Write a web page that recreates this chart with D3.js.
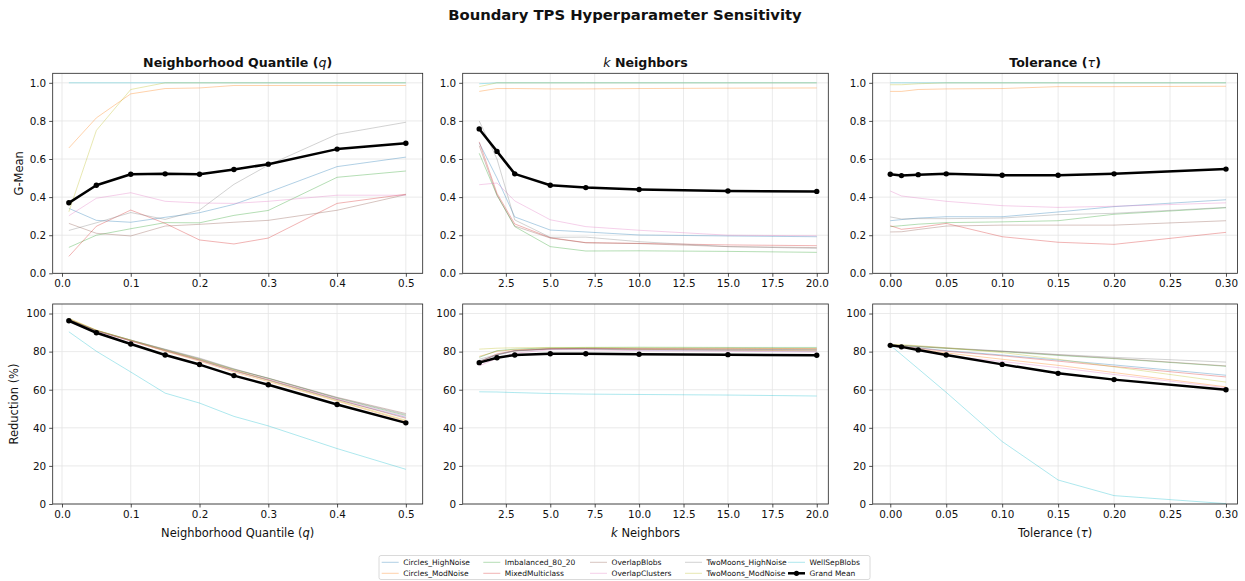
<!DOCTYPE html>
<html>
<head>
<meta charset="utf-8">
<script src="https://cdn.jsdelivr.net/npm/d3@7"></script>
<style>
  body { margin: 0; background: #fff; }
  text { font-family: "DejaVu Sans", sans-serif; fill: #111; }
</style>
</head>
<body>
<svg id="chart" width="1245" height="581"></svg>
<script>
// datasets, in legend order
const datasets = ["Circles_HighNoise", "Circles_ModNoise", "Imbalanced_80_20", "MixedMulticlass",
  "OverlapBlobs", "OverlapClusters", "TwoMoons_HighNoise", "TwoMoons_ModNoise", "WellSepBlobs"];

// hyperparameter grids
const qValues = [0.01, 0.05, 0.1, 0.15, 0.2, 0.25, 0.3, 0.4, 0.5];
const kValues = [1, 2, 3, 5, 7, 10, 15, 20];
const tauValues = [0, 0.01, 0.025, 0.05, 0.1, 0.15, 0.2, 0.3];

// G-Mean, one row per dataset
const gmeanByQ = [
  [0.341, 0.278, 0.268, 0.294, 0.318, 0.362, 0.425, 0.56, 0.61],
  [0.658, 0.816, 0.942, 0.97, 0.973, 0.986, 0.986, 0.986, 0.986],
  [0.136, 0.2, 0.234, 0.266, 0.265, 0.304, 0.33, 0.504, 0.537],
  [0.089, 0.247, 0.332, 0.262, 0.175, 0.154, 0.185, 0.367, 0.415],
  [0.262, 0.21, 0.196, 0.248, 0.257, 0.268, 0.278, 0.331, 0.413],
  [0.302, 0.394, 0.423, 0.378, 0.369, 0.367, 0.378, 0.41, 0.41],
  [0.225, 0.265, 0.319, 0.283, 0.332, 0.467, 0.568, 0.73, 0.793],
  [0.323, 0.75, 0.965, 1.0, 1.0, 1.0, 1.0, 1.0, 1.0],
  [1, 1, 1, 1, 1, 1, 1, 1, 1]
];
const gmeanByQMean = [0.37, 0.462, 0.52, 0.522, 0.52, 0.545, 0.573, 0.652, 0.683];

const gmeanByK = [
  [0.685, 0.5, 0.296, 0.227, 0.217, 0.201, 0.196, 0.192],
  [0.955, 0.97, 0.97, 0.968, 0.968, 0.97, 0.972, 0.973],
  [0.63, 0.41, 0.245, 0.14, 0.117, 0.118, 0.115, 0.11],
  [0.69, 0.42, 0.259, 0.187, 0.161, 0.157, 0.149, 0.145],
  [0.67, 0.41, 0.248, 0.185, 0.16, 0.156, 0.14, 0.135],
  [0.465, 0.474, 0.38, 0.281, 0.245, 0.226, 0.2, 0.197],
  [0.8, 0.6, 0.28, 0.189, 0.19, 0.166, 0.14, 0.131],
  [0.98, 1, 1, 1, 1, 1, 1, 1],
  [0.995, 1, 1, 1, 1, 1, 1, 1]
];
const gmeanByKMean = [0.758, 0.64, 0.522, 0.462, 0.45, 0.44, 0.432, 0.43];

const gmeanByTau = [
  [0.276, 0.282, 0.29, 0.297, 0.297, 0.322, 0.35, 0.386],
  [0.955, 0.955, 0.965, 0.968, 0.97, 0.98, 0.98, 0.982],
  [0.245, 0.25, 0.258, 0.266, 0.27, 0.276, 0.31, 0.344],
  [0.25, 0.231, 0.24, 0.262, 0.192, 0.163, 0.152, 0.215],
  [0.217, 0.218, 0.23, 0.248, 0.253, 0.253, 0.253, 0.276],
  [0.432, 0.406, 0.395, 0.378, 0.355, 0.346, 0.352, 0.37],
  [0.296, 0.285, 0.287, 0.287, 0.29, 0.308, 0.315, 0.346],
  [0.99, 0.99, 0.995, 1, 1, 1, 1, 1],
  [1, 1, 1, 1, 1, 1, 1, 1]
];
const gmeanByTauMean = [0.52, 0.513, 0.518, 0.522, 0.515, 0.515, 0.522, 0.547];

// Reduction (%), one row per dataset
const reductionByQ = [
  [96.8, 91.0, 85.7, 80.5, 75.5, 69.9, 65.0, 54.8, 45.5],
  [97.3, 91.2, 85.6, 80.2, 75.0, 69.3, 64.3, 54.0, 43.5],
  [96.8, 91.1, 86.0, 81.0, 76.0, 70.6, 66.0, 55.6, 46.5],
  [96.7, 90.9, 85.7, 80.6, 75.6, 70.0, 65.2, 54.9, 45.0],
  [96.9, 91.2, 86.1, 81.1, 76.3, 70.8, 66.1, 56.0, 47.5],
  [96.4, 90.8, 85.6, 80.5, 75.6, 70.0, 65.3, 55.2, 46.0],
  [96.7, 91.0, 86.0, 81.3, 76.6, 71.0, 65.9, 55.8, 47.0],
  [97.5, 91.3, 86.0, 80.6, 75.8, 70.3, 64.9, 54.4, 44.0],
  [90.4, 80.2, 69.3, 58.2, 53.0, 46.0, 41.0, 29.1, 18.2]
];
const reductionByQMean = [96.2, 89.9, 84.0, 78.2, 73.2, 67.4, 62.6, 52.2, 42.6];

const reductionByK = [
  [75, 78.2, 80.5, 81.3, 81.3, 80.9, 80.6, 80.3],
  [77.5, 80.2, 81, 81.6, 81.5, 81.2, 80.8, 80.4],
  [77, 80.5, 81.3, 82, 82.2, 82.3, 82.2, 82.2],
  [74.5, 78.8, 80.5, 81.5, 81.7, 81.6, 81.7, 81.6],
  [75, 78.3, 80.3, 81.4, 81.6, 81.3, 81.2, 81],
  [72.5, 76.5, 79.2, 81, 81, 80.5, 80.2, 79.8],
  [76, 78.5, 80.5, 81.5, 81.6, 81.4, 81.2, 81],
  [81.3, 81.8, 82, 82.2, 82.2, 82, 81.8, 81.5],
  [58.9, 58.8, 58.5, 58, 57.7, 57.5, 57.2, 56.7]
];
const reductionByKMean = [74.2, 76.8, 78.2, 78.9, 78.9, 78.6, 78.4, 78.1];

const reductionByTau = [
  [83.3, 82.9, 82, 80.5, 78.2, 75.6, 73, 67.6],
  [83.2, 82.6, 81.3, 79.3, 76, 72.8, 69, 61.5],
  [83.3, 83.2, 82.6, 81.7, 80, 78, 76.3, 72.3],
  [83.2, 82.8, 81.8, 80.2, 77.8, 75, 72.2, 66.7],
  [83.4, 83.3, 82.7, 81.8, 80.2, 78.3, 76.5, 72.5],
  [83.1, 82.3, 80.9, 77.9, 74.8, 71.6, 68, 61],
  [83.4, 83.3, 82.8, 82, 80.3, 78.5, 77, 74.5],
  [83.8, 83.6, 83.1, 82.0, 79.5, 76.0, 72.0, 64.0],
  [83.3, 78.4, 71, 58.6, 32.8, 12.6, 4.4, 0.2]
];
const reductionByTauMean = [83.3, 82.5, 80.9, 78.2, 73.3, 68.6, 65.3, 60];

// tick labels
const qTicks = [0, 0.1, 0.2, 0.3, 0.4, 0.5];
const kTicks = [2.5, 5, 7.5, 10, 12.5, 15, 17.5, 20];
const tauTicks = [0, 0.05, 0.1, 0.15, 0.2, 0.25, 0.3];
const gmeanTicks = [0, 0.2, 0.4, 0.6, 0.8, 1.0];
const reductionTicks = [0, 20, 40, 60, 80, 100];

// ---- styling / layout ----
const colors = ["#1f77b4", "#ff7f0e", "#2ca02c", "#d62728", "#8c564b",
  "#e377c2", "#7f7f7f", "#bcbd22", "#17becf"];

const cols = [
  { left: 52.7, right: 422.7, domain: [-0.0135, 0.5245], xs: qValues, ticks: qTicks, fmt: ".1f",
    label: [["Neighborhood Quantile (", false], ["q", true], [")", false]] },
  { left: 462.7, right: 828.3, domain: [0.07, 20.65], xs: kValues, ticks: kTicks, fmt: ".1f",
    label: [["k", true], [" Neighbors", false]] },
  { left: 872.7, right: 1237.5, domain: [-0.0157, 0.3103], xs: tauValues, ticks: tauTicks, fmt: ".2f",
    label: [["Tolerance (", false], ["τ", true], [")", false]] }
];
const rows = [
  { top: 73.3, bottom: 273.3, domain: [0, 1.05], ticks: gmeanTicks, fmt: ".1f", ylabel: "G-Mean", ylabelX: 18.5,
    series: [[gmeanByQ, gmeanByQMean], [gmeanByK, gmeanByKMean], [gmeanByTau, gmeanByTauMean]] },
  { top: 304, bottom: 504, domain: [0, 105], ticks: reductionTicks, fmt: "d", ylabel: "Reduction (%)", ylabelX: 14,
    series: [[reductionByQ, reductionByQMean], [reductionByK, reductionByKMean], [reductionByTau, reductionByTauMean]] }
];

const svg = d3.select("#chart");

svg.append("text")
  .attr("x", 625).attr("y", 19.5)
  .attr("text-anchor", "middle")
  .style("font-size", "14.8px").style("font-weight", "bold")
  .text("Boundary TPS Hyperparameter Sensitivity");

function richText(sel, parts, bold) {
  parts.forEach(([s, it]) => {
    sel.append("tspan")
      .style("font-style", it ? "italic" : "normal")
      .style("font-weight", bold && !it ? "bold" : "normal")
      .text(s);
  });
}

rows.forEach((row, r) => {
  cols.forEach((col, c) => {
    const x = d3.scaleLinear().domain(col.domain).range([col.left, col.right]);
    const y = d3.scaleLinear().domain(row.domain).range([row.bottom, row.top]);
    const g = svg.append("g");

    // grid
    g.append("g").selectAll("line").data(col.ticks).join("line")
      .attr("x1", d => x(d)).attr("x2", d => x(d))
      .attr("y1", row.top).attr("y2", row.bottom)
      .attr("stroke", "#e4e4e4").attr("stroke-width", 0.8);
    g.append("g").selectAll("line").data(row.ticks).join("line")
      .attr("x1", col.left).attr("x2", col.right)
      .attr("y1", d => y(d)).attr("y2", d => y(d))
      .attr("stroke", "#e4e4e4").attr("stroke-width", 0.8);

    const [lines, mean] = row.series[c];
    const line = d3.line().x((d, i) => x(col.xs[i])).y(d => y(d));

    g.append("g").selectAll("path").data(lines).join("path")
      .attr("d", line)
      .attr("fill", "none")
      .attr("stroke", (d, i) => colors[i])
      .attr("stroke-width", 1)
      .attr("stroke-opacity", 0.35);

    g.append("path").datum(mean)
      .attr("d", line)
      .attr("fill", "none")
      .attr("stroke", "#000")
      .attr("stroke-width", 2.5)
      .attr("stroke-linejoin", "round");
    g.append("g").selectAll("circle").data(mean).join("circle")
      .attr("cx", (d, i) => x(col.xs[i])).attr("cy", d => y(d))
      .attr("r", 2.7).attr("fill", "#000");

    // axes
    const xa = g.append("g").attr("transform", `translate(0,${row.bottom})`)
      .call(d3.axisBottom(x).tickValues(col.ticks).tickFormat(d3.format(col.fmt)).tickSize(3.5).tickPadding(3));
    const ya = g.append("g").attr("transform", `translate(${col.left},0)`)
      .call(d3.axisLeft(y).tickValues(row.ticks).tickFormat(d3.format(row.fmt)).tickSize(3.5).tickPadding(3));
    [xa, ya].forEach(a => {
      a.select(".domain").remove();
      a.selectAll("line").attr("stroke", "#222").attr("stroke-width", 0.8);
      a.selectAll("text").style("font-size", "10.4px").style("font-family", "DejaVu Sans").attr("fill", "#222");
    });

    g.append("rect")
      .attr("x", col.left).attr("y", row.top)
      .attr("width", col.right - col.left).attr("height", row.bottom - row.top)
      .attr("fill", "none").attr("stroke", "#222").attr("stroke-width", 0.8);

    if (r === 0) {
      const t = svg.append("text")
        .attr("x", (col.left + col.right) / 2).attr("y", 66.5)
        .attr("text-anchor", "middle").style("font-size", "12.6px");
      richText(t, col.label, true);
    } else {
      const t = svg.append("text")
        .attr("x", (col.left + col.right) / 2).attr("y", 536.5)
        .attr("text-anchor", "middle").style("font-size", "11.5px");
      richText(t, col.label, false);
    }
    if (c === 0) {
      svg.append("text")
        .attr("transform", `translate(${row.ylabelX},${(row.top + row.bottom) / 2}) rotate(-90)`)
        .attr("text-anchor", "middle").attr("dominant-baseline", "central")
        .style("font-size", "11.5px")
        .text(row.ylabel);
    }
  });
});

// legend
const legendItems = datasets.map((name, i) => ({ name, color: colors[i], mean: false }))
  .concat([{ name: "Grand Mean", color: "#000", mean: true }]);
const colX = [381.7, 483.3, 590, 685, 788];
const rowY = [562.3, 573.3];

svg.append("rect")
  .attr("x", 379).attr("y", 555.5).attr("width", 491).attr("height", 24)
  .attr("rx", 2).attr("fill", "#fff").attr("stroke", "#d0d0d0").attr("stroke-width", 0.8);

const lg = svg.append("g").selectAll("g").data(legendItems).join("g")
  .attr("transform", (d, i) => `translate(${colX[Math.floor(i / 2)]},${rowY[i % 2]})`);
lg.append("line")
  .attr("x1", 0).attr("x2", 17)
  .attr("stroke", d => d.color)
  .attr("stroke-width", d => d.mean ? 2.5 : 1)
  .attr("stroke-opacity", d => d.mean ? 1 : 0.35);
lg.filter(d => d.mean).append("circle")
  .attr("cx", 8.5).attr("r", 2.6).attr("fill", "#000");
lg.append("text")
  .attr("x", 21.5).attr("dy", "0.35em")
  .style("font-size", "7.5px")
  .text(d => d.name);
</script>
</body>
</html>
